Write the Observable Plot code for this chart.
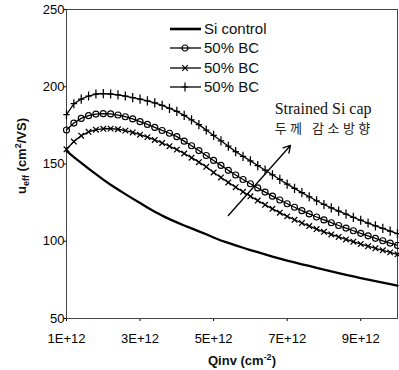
<!DOCTYPE html>
<html><head><meta charset="utf-8">
<script src="https://cdn.jsdelivr.net/npm/d3@7"></script>
<script src="https://cdn.jsdelivr.net/npm/@observablehq/plot@0.6"></script>
<style>body{margin:0;background:#fff}#chart{width:399px;height:370px}</style>
</head><body><div id="chart"></div>
<script>
// Qinv in units of 1E+12 cm^-2
const qinv = [1.0,1.2,1.4,1.6,1.8,2.0,2.2,2.4,2.6,2.8,3.0,3.2,3.4,3.6,3.8,4.0,4.2,4.4,4.6,4.8,5.0,5.2,5.4,5.6,5.8,6.0,6.2,6.4,6.6,6.8,7.0,7.2,7.4,7.6,7.8,8.0,8.2,8.4,8.6,8.8,9.0,9.2,9.4,9.6,9.8,10.0];
const siControl = [158.5,154.5,150.7,147,143.4,139.9,136.6,133.5,130.5,127.6,124.8,121.8,119.1,116.6,114.3,112.2,110.2,108.3,106.4,104.5,102.4,100.5,98.9,97.3,95.8,94.3,92.9,91.5,90.1,88.8,87.5,86.3,85.1,84,82.8,81.6,80.5,79.4,78.3,77.2,76.2,75.2,74.2,73.2,72.2,71.3];
const bcCircle = [172,176.5,179.5,181.3,182.3,182.6,182.4,181.7,180.6,179.2,177.4,175.6,173.7,171.7,169.9,167.7,164.8,161.8,158.7,155.5,152.3,149.1,145.9,142.9,140,137.2,134.5,131.8,129.2,126.7,124.3,122,119.8,117.7,115.7,113.8,112,110.2,108.5,106.8,105.1,103.5,101.9,100.3,98.8,97.3];
const bcTimes = [159.5,164.5,168.3,170.8,172.2,172.8,172.9,172.5,171.6,170.4,169,167.4,165.6,163.6,161.5,159.3,156.8,154.1,151.2,148.2,144.5,141.3,138.1,135,132,129.1,126.3,123.6,121,118.5,116.1,113.9,111.8,109.8,107.9,106.1,104.4,102.8,101.2,99.7,98.2,96.8,95.4,94.1,92.8,91.5];
const bcPlus = [182,189,192,194,195.3,195.5,195.3,194.8,194,193,192,190.8,189.5,188,186,184,181.5,178.5,175.5,172,168.5,165,161.5,158,155,152,149,146,143,140,137,134.2,131.5,128.8,126.2,123.8,121.6,119.5,117.5,115.5,113.6,111.8,110,108.3,106.6,105];
const seriesNames = ["Si control","50% BC","50% BC","50% BC"];
const xTicks = [1,3,5,7,9];
const xTickLabels = ["1E+12","3E+12","5E+12","7E+12","9E+12"];
const yTicks = [50,100,150,200,250];
const arrowData = [{x1:5.4, y1:116.7, x2:7.09, y2:162}];
const noteLines = ["Strained Si cap","두께 감소방향"];
const noteX = 6.66, noteY = [186, 173];

const rows = qinv.map((q,i)=>({q, si:siControl[i], c:bcCircle[i], t:bcTimes[i], p:bcPlus[i]}));

const plusSym = {draw(ctx){ ctx.moveTo(-3.2,0); ctx.lineTo(3.2,0); ctx.moveTo(0,-4.6); ctx.lineTo(0,4.6); }};
const timesSym = {draw(ctx){ const a=2.8; ctx.moveTo(-a,-a); ctx.lineTo(a,a); ctx.moveTo(-a,a); ctx.lineTo(a,-a); }};

const font = "'Liberation Sans', Arial, sans-serif";
const plot = Plot.plot({
  width: 399, height: 370,
  marginLeft: 66, marginRight: 2, marginTop: 9, marginBottom: 52,
  style: {fontFamily: font, fontSize: "13px", color: "#000", background: "#fff"},
  x: {domain: [1, 10]},
  y: {domain: [50, 250]},
  marks: [
    Plot.axisX({ticks: xTicks, tickFormat: d => xTickLabels[xTicks.indexOf(d)], tickSize: 3, tickPadding: 12, label: null}),
    Plot.axisY({ticks: yTicks, tickSize: 2, tickPadding: 0, label: null}),
    Plot.frame({stroke: "#444"}),
    Plot.line(rows, {x: "q", y: "si", stroke: "black", strokeWidth: 2.3}),
    Plot.line(rows, {x: "q", y: "c", stroke: "black", strokeWidth: 1.3}),
    Plot.line(rows, {x: "q", y: "t", stroke: "black", strokeWidth: 1.3}),
    Plot.line(rows, {x: "q", y: "p", stroke: "black", strokeWidth: 1.3}),
    Plot.dot(rows, {x: "q", y: "c", r: 3, symbol: "circle", fill: "none", stroke: "black", strokeWidth: 1.15}),
    Plot.dot(rows, {x: "q", y: "t", r: 3, symbol: timesSym, fill: "none", stroke: "black", strokeWidth: 1.25}),
    Plot.dot(rows, {x: "q", y: "p", r: 3, symbol: plusSym, fill: "none", stroke: "black", strokeWidth: 1.25}),
    Plot.arrow(arrowData, {x1: "x1", y1: "y1", x2: "x2", y2: "y2", stroke: "black", strokeWidth: 1.3, headLength: 9}),
    Plot.text([noteLines[0]], {x: noteX, y: noteY[0], text: d => d, textAnchor: "start", fontFamily: "'Liberation Serif', 'Times New Roman', serif", fontSize: 16, fill: "#111"}),
    Plot.text([noteLines[1]], {x: noteX, y: noteY[1], text: d => d, textAnchor: "start", fontFamily: "'Noto Sans CJK KR', sans-serif", fontSize: 13, fill: "#222", className: "kr"})
  ]
});
document.getElementById("chart").appendChild(plot);

const svg = d3.select(plot);
svg.selectAll(".kr text").style("letter-spacing", "3.5px");
// legend
const legend = svg.append("g").attr("font-family", font).attr("font-size", 15).attr("fill", "#111").attr("text-anchor", "start");
const legY = [29, 48, 68, 87];
legY.forEach((y, i) => {
  legend.append("line").attr("x1", 170).attr("x2", 201).attr("y1", y).attr("y2", y)
    .attr("stroke", "black").attr("stroke-width", i === 0 ? 2.6 : 1.3);
  const g = legend.append("g").attr("transform", `translate(185,${y})`).attr("fill", "none").attr("stroke", "black").attr("stroke-width", 1.2);
  if (i === 1) g.append("circle").attr("r", 3);
  if (i === 2) g.append("path").attr("d", "M-2.8,-2.8L2.8,2.8M-2.8,2.8L2.8,-2.8");
  if (i === 3) g.append("path").attr("d", "M-3.2,0L3.2,0M0,-4.6L0,4.6");
  legend.append("text").attr("x", 204).attr("y", y).attr("dy", "0.35em").text(seriesNames[i]);
});
// y label
const yl = svg.append("text").attr("transform", "translate(26,156) rotate(-90)")
  .attr("text-anchor", "middle").attr("font-family", font).attr("font-weight", "bold").attr("font-size", 13).attr("fill", "#111");
yl.append("tspan").text("u");
yl.append("tspan").attr("font-size", 9).attr("dy", 3).text("eff");
yl.append("tspan").attr("dy", -3).text(" (cm");
yl.append("tspan").attr("font-size", 9).attr("dy", -5).text("2");
yl.append("tspan").attr("dy", 5).text("/VS)");
// x label
const xl = svg.append("text").attr("x", 242).attr("y", 365)
  .attr("text-anchor", "middle").attr("font-family", font).attr("font-weight", "bold").attr("font-size", 13).attr("fill", "#111");
xl.append("tspan").text("Qinv (cm");
xl.append("tspan").attr("font-size", 9).attr("dy", -5).text("-2");
xl.append("tspan").attr("dy", 5).text(")");
</script>
</body></html>
